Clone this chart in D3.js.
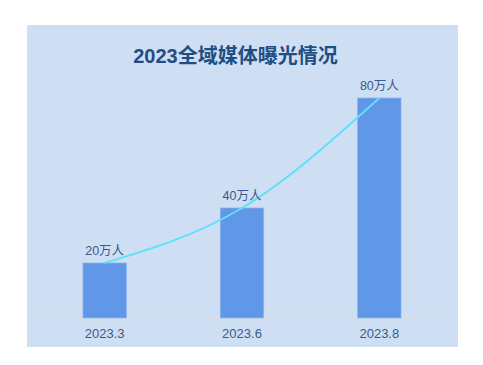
<!DOCTYPE html>
<html>
<head>
<meta charset="utf-8">
<script src="https://cdn.jsdelivr.net/npm/d3@7/dist/d3.min.js"></script>
<style>
  body { margin: 0; background: #fff; }
  text { font-family: "Liberation Sans", "Noto Sans CJK SC", sans-serif; }
</style>
</head>
<body>
<script>
var title = "2023全域媒体曝光情况";
var months = ["2023.3", "2023.6", "2023.8"];
var values = [20, 40, 80];
var labels = ["20万人", "40万人", "80万人"];

const w = 483,
      h = 365;

const panel = { x: 27, y: 25, w: 431, h: 322 };
const left = 36, right = 448, baseY = 318;

const svg = d3.select("body")
              .append("svg")
              .attr("width", w)
              .attr("height", h);

svg.append("rect")
   .attr("x", panel.x)
   .attr("y", panel.y)
   .attr("width", panel.w)
   .attr("height", panel.h)
   .attr("fill", "#cfdff3");

const xScale = d3.scaleBand()
                 .domain(months)
                 .range([left, right])
                 .padding(0);

const yScale = d3.scaleLinear()
                 .domain([0, 80])
                 .range([baseY, 98]);

const barW = xScale.bandwidth() * 0.316;
const cx = d => xScale(d) + xScale.bandwidth() / 2;

// baseline
svg.append("line")
   .attr("x1", left)
   .attr("x2", right)
   .attr("y1", baseY + 0.5)
   .attr("y2", baseY + 0.5)
   .attr("stroke", "#d8dfea")
   .attr("stroke-width", 1.2);

svg.selectAll("rect.bar")
   .data(values)
   .enter()
   .append("rect")
   .attr("class", "bar")
   .attr("x", (d, i) => cx(months[i]) - barW / 2)
   .attr("y", d => yScale(d))
   .attr("width", barW)
   .attr("height", d => baseY - yScale(d))
   .attr("fill", "#6097e6")
   .attr("stroke", "#8db4ee")
   .attr("stroke-width", 0.8);

// trend curve
const line = d3.line()
               .x((d, i) => cx(months[i]))
               .y(d => yScale(d))
               .curve(d3.curveNatural);

svg.append("path")
   .datum(values)
   .attr("d", line)
   .attr("fill", "none")
   .attr("stroke", "#5fe0fa")
   .attr("stroke-width", 2);

svg.selectAll("text.val")
   .data(labels)
   .enter()
   .append("text")
   .attr("class", "val")
   .attr("x", (d, i) => cx(months[i]))
   .attr("y", (d, i) => yScale(values[i]) - 8)
   .attr("text-anchor", "middle")
   .attr("font-size", 12.5)
   .attr("fill", "#3a5a8c")
   .text(d => d);

svg.selectAll("text.tick")
   .data(months)
   .enter()
   .append("text")
   .attr("class", "tick")
   .attr("x", d => cx(d))
   .attr("y", 338)
   .attr("text-anchor", "middle")
   .attr("font-size", 13)
   .attr("fill", "#3a5a8c")
   .text(d => d);

svg.append("text")
   .attr("x", 235.5)
   .attr("y", 63)
   .attr("text-anchor", "middle")
   .attr("font-size", 20)
   .attr("font-weight", "bold")
   .attr("fill", "#1f4e85")
   .text(title);
</script>
</body>
</html>
